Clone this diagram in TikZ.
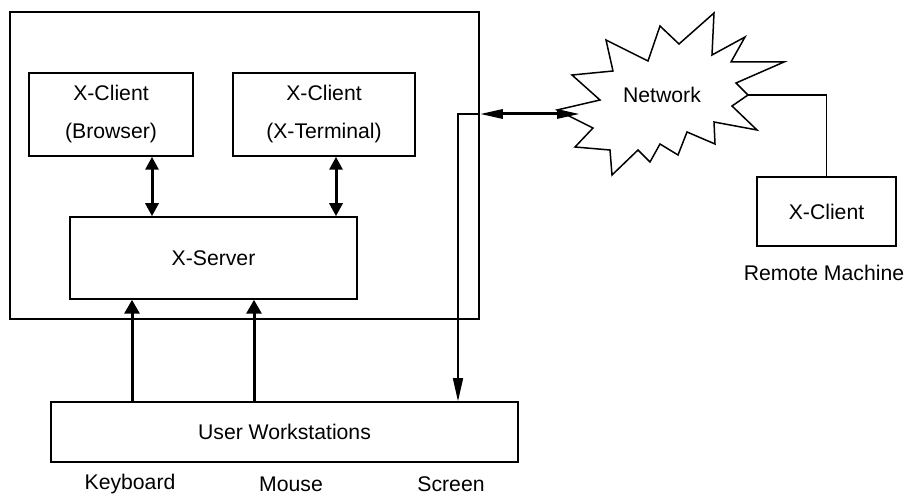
\documentclass[tikz,border=0pt]{standalone}
\usepackage{fontspec}
\setmainfont{Liberation Sans}
\usetikzlibrary{arrows.meta}

\begin{document}
\begin{tikzpicture}[x=0.5pt, y=-0.5pt, line width=0.75pt,
        every node/.style={inner sep=0pt, font=\fontsize{10.6}{19}\selectfont},
        box/.style={draw, rectangle, align=center},
        dlink/.style={line width=1.5pt, {Triangle[length=6.5pt,width=6.5pt]}-{Triangle[length=6.5pt,width=6.5pt]}},
        uplink/.style={line width=1.5pt, -{Triangle[length=7pt,width=7.5pt]}},
        netlink/.style={line width=1.5pt, {Triangle[length=11.5pt,width=4.5pt]}-{Triangle[length=11.5pt,width=4.5pt]}},
        downlink/.style={-{Triangle[length=11.5pt,width=5pt]}}]
        \useasboundingbox (0,0) rectangle (906,496);

        % Nodes
        \node[box, minimum width=234.5pt, minimum height=153.5pt] (host) at (244.5,165.5) {};
        \node[box, minimum width=82pt, minimum height=41.5pt] (browser) at (111,114.5) {X-Client\\(Browser)};
        \node[box, minimum width=91pt, minimum height=41.5pt] (terminal) at (324,114.5) {X-Client\\(X-Terminal)};
        \node[box, minimum width=143.5pt, minimum height=41pt] (server) at (213.5,258) {X-Server};
        \node[box, minimum width=233.5pt, minimum height=30pt] (desk) at (284.5,432) {User Workstations};
        \node[box, minimum width=69.5pt, minimum height=34.5pt] (remote) at (826.5,211.5) {X-Client};
        \node (machine) at (824,273) {Remote Machine};
        \node (keyboard) at (130,484) {Keyboard};
        \node (mouse) at (291,484) {Mouse};
        \node (screen) at (451,484) {Screen};

        % Network
        \draw (572,75) -- (613,71) -- (606,40) -- (648,61) -- (660,26) -- (679,44) -- (714,13)
            -- (712,55) -- (745,37) -- (731,62) -- (784,62) -- (736,83) -- (748,95) -- (732,106)
            -- (757,130) -- (714,122) -- (715,144) -- (687,132) -- (678,155) -- (660,144)
            -- (650,162) -- (638,150) -- (612,175) -- (610,150) -- (575,147) -- (593,128)
            -- (557,110) -- (600,100) -- cycle;
        \node (net) at (662,95) {Network};
        \coordinate (netin) at (580,114);
        \coordinate (netout) at (748,95);
        \coordinate (tap) at (458,114);

        % Edges
        \draw[dlink] ([xshift=20.5pt]browser.south) -- ([xshift=20.5pt]browser.south |- server.north);
        \draw[dlink] ([xshift=6pt]terminal.south) -- ([xshift=6pt]terminal.south |- server.north);
        \draw[uplink] ([xshift=-40.75pt]server.south |- desk.north) -- ([xshift=-40.75pt]server.south);
        \draw[uplink] ([xshift=20.25pt]server.south |- desk.north) -- ([xshift=20.25pt]server.south);
        \draw[netlink] (host.east |- tap) -- (netin);
        \draw[downlink] (host.east |- tap) -- (tap) -- (tap |- desk.north);
        \draw (netout) -| (remote.north);
    \end{tikzpicture}
\end{document}
